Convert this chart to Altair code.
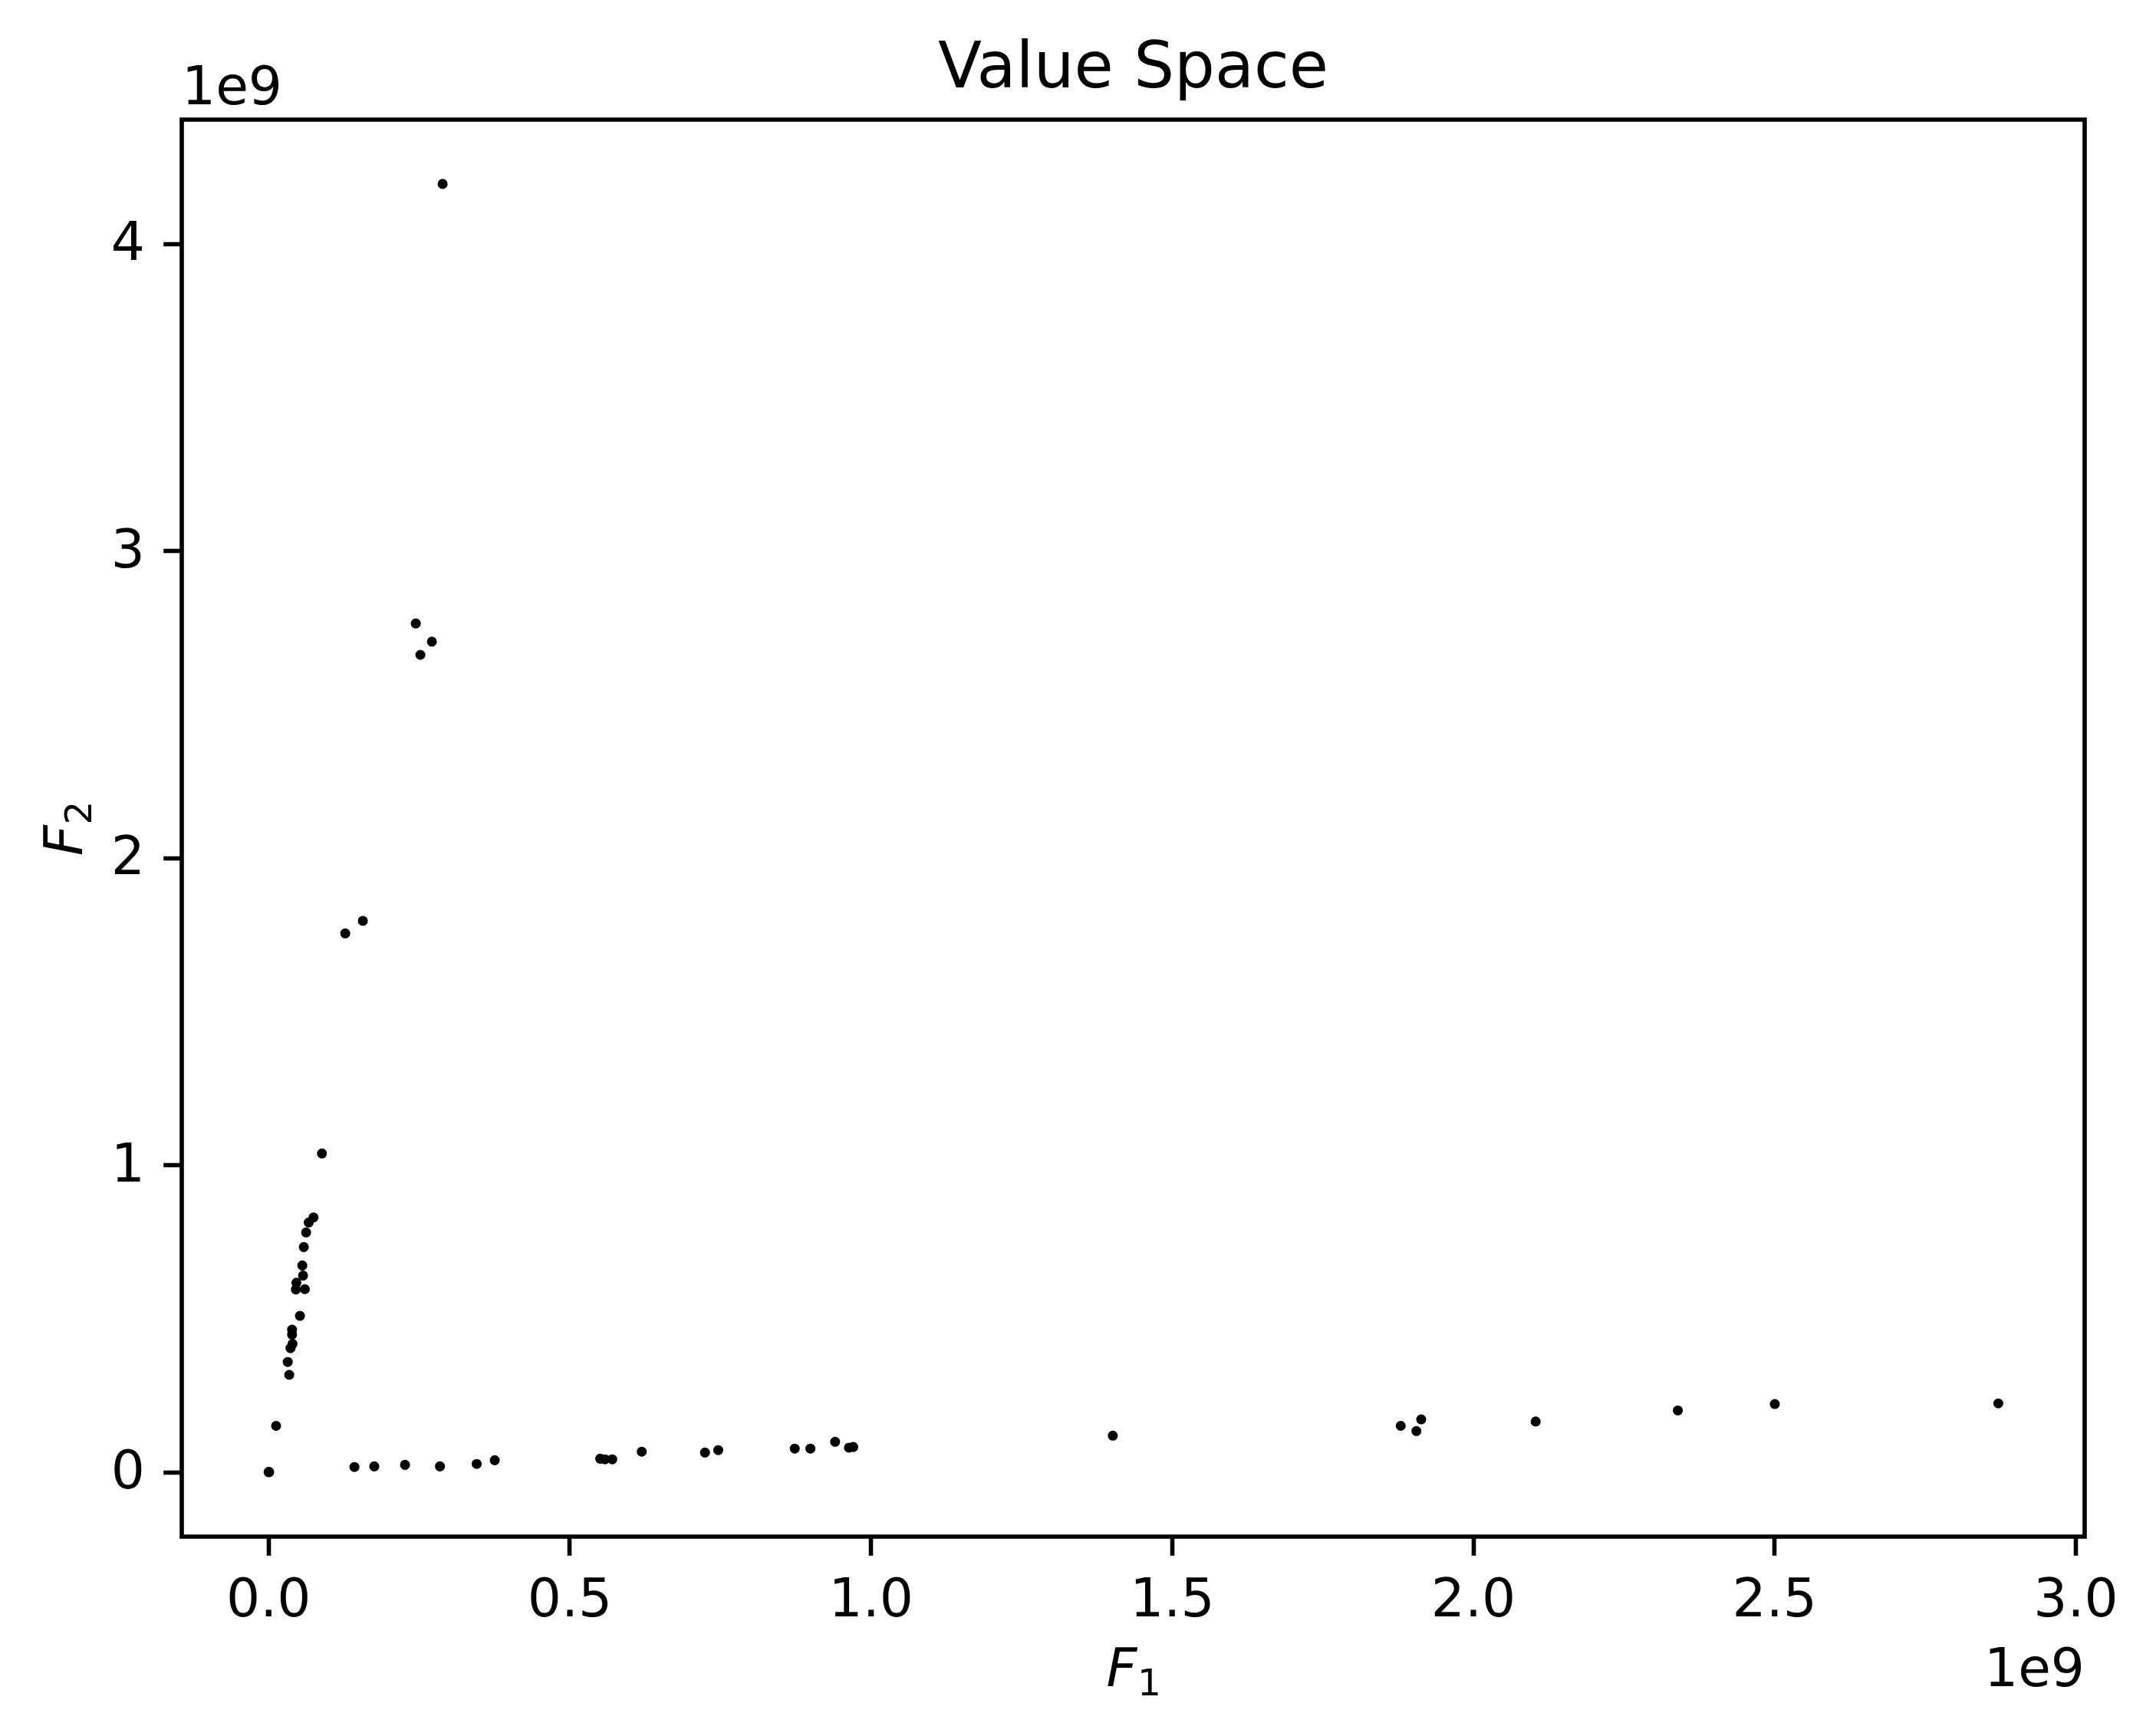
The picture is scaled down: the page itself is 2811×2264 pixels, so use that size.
import altair as alt
import pandas as pd

# values in units of 1e9
f1 = [0.0005, 0.001, 0.0015, 0.013, 0.0348, 0.0323, 0.0369, 0.0403, 0.0395, 0.0395,
      0.0526, 0.0458, 0.0607, 0.0467, 0.0577, 0.0565, 0.059, 0.0628, 0.0671, 0.0751,
      0.0891, 0.1278, 0.157, 0.2525, 0.2716, 0.2449, 0.2894,
      0.143, 0.176, 0.227, 0.285, 0.346, 0.376, 0.551, 0.559, 0.571, 0.620, 0.725,
      0.747, 0.874, 0.900, 0.941, 0.964, 0.971, 1.402, 1.880, 1.906, 1.914, 2.104,
      2.340, 2.501, 2.872]
f2 = [0.0005, 0.001, 0.0, 0.151, 0.317, 0.359, 0.404, 0.418, 0.448, 0.464,
      0.509, 0.595, 0.596, 0.617, 0.640, 0.673, 0.733, 0.7805, 0.813, 0.8295,
      1.0377, 1.754, 1.795, 2.661, 2.704, 2.763, 4.194,
      0.017, 0.019, 0.024, 0.019, 0.027, 0.039, 0.044, 0.042, 0.042, 0.067, 0.064,
      0.072, 0.077, 0.077, 0.099, 0.080, 0.082, 0.119, 0.151, 0.134, 0.172, 0.165,
      0.201, 0.222, 0.224]

x_ticks = [0.0, 0.5, 1.0, 1.5, 2.0, 2.5, 3.0]
y_ticks = [0, 1, 2, 3, 4]

title_text = "Value Space"
offset_text = "1e9"

df = pd.DataFrame({"F1": [v * 1e9 for v in f1], "F2": [v * 1e9 for v in f2]})

W, H = 2481, 1848
FONT = "DejaVu Sans"
FS = 69.4
TICK = 24.3
LW = 5.6

xs = alt.Scale(domain=[-0.1436e9, 3.0154e9], nice=False, zero=False)
ys = alt.Scale(domain=[-0.2097e9, 4.4034e9], nice=False, zero=False)

points = alt.Chart(df).mark_point(filled=True, shape="circle", color="black",
                                  size=170, opacity=1).encode(
    x=alt.X("F1:Q", scale=xs,
            axis=alt.Axis(values=[v * 1e9 for v in x_ticks],
                          labelExpr="format(datum.value / 1e9, '.1f')",
                          title=None, grid=False, domain=False,
                          tickSize=TICK, tickWidth=LW, tickColor="black",
                          labelPadding=TICK, labelFont=FONT, labelFontSize=FS,
                          labelColor="black", labelFlush=False)),
    y=alt.Y("F2:Q", scale=ys,
            axis=alt.Axis(values=[v * 1e9 for v in y_ticks],
                          labelExpr="format(datum.value / 1e9, 'd')",
                          title=None, grid=False, domain=False,
                          tickSize=TICK, tickWidth=LW, tickColor="black",
                          labelPadding=TICK, labelFont=FONT, labelFontSize=FS,
                          labelColor="black", labelFlush=False)),
)


def txt(s, x, y, size=FS, align="center", baseline="alphabetic", angle=0, style="normal"):
    kw = dict(align=align, baseline=baseline, font=FONT, fontSize=size,
              color="black", fontStyle=style)
    if angle:
        kw["angle"] = angle
    return alt.Chart(pd.DataFrame({"t": [s]})).mark_text(**kw).encode(
        x=alt.value(x), y=alt.value(y), text="t:N")


layers = [
    points,
    txt(title_text, W / 2, -42, size=83.3),
    txt(offset_text, 0, -20, align="left"),
    txt(offset_text, W, 2043, align="right"),
    # x label F_1
    txt("F", W / 2 - 15, 2043, align="center", style="italic"),
    txt("1", W / 2 + 21, 2055, size=48.6, align="center"),
    # y label F_2
    txt("F", -130, H / 2 + 16, align="center", angle=270, style="italic"),
    txt("2", -118, H / 2 - 20, size=48.6, align="center", angle=270),
]

chart = alt.layer(*layers).properties(
    width=W, height=H,
    background="white",
    autosize=alt.AutoSizeParams(type="none"),
    padding={"left": 229, "top": 148, "right": 85, "bottom": 252},
).configure_view(stroke="black", strokeWidth=LW)

chart.save("out.html", embed_options={"renderer": "svg", "actions": False})
